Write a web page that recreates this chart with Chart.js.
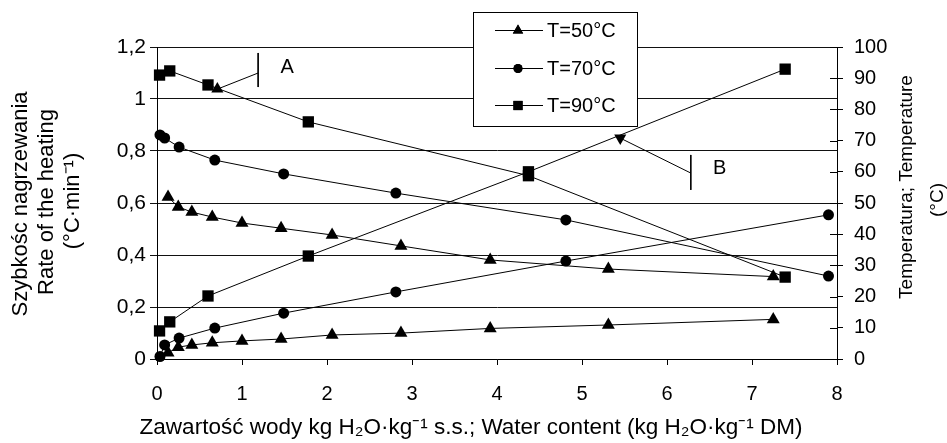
<!DOCTYPE html>
<html><head><meta charset="utf-8">
<script src="https://cdn.jsdelivr.net/npm/chart.js@4.4.1/dist/chart.umd.min.js"></script>
<style>html,body{margin:0;padding:0;background:#fff;overflow:hidden}#wrap{position:relative;width:947px;height:443px}</style>
</head><body><div id="wrap"><canvas id="c"></canvas></div>
<script>
// ---- data ----
const seriesNames = ['T=50°C', 'T=70°C', 'T=90°C'];
const seriesStyles = ['triangle', 'circle', 'rect'];

const x50 = [0.13, 0.25, 0.41, 0.65, 1.0, 1.46, 2.06, 2.87, 3.92, 5.31, 7.25];
const rate50 = [0.623, 0.585, 0.565, 0.546, 0.523, 0.503, 0.477, 0.435, 0.381, 0.346, 0.317];
const temp50 = [2.0, 3.8, 4.5, 5.2, 5.8, 6.4, 7.7, 8.3, 9.8, 10.9, 12.7];

const x70 = [0.035, 0.09, 0.26, 0.68, 1.49, 2.81, 4.81, 7.9];
const rate70 = [0.862, 0.85, 0.815, 0.765, 0.712, 0.638, 0.535, 0.319];
const temp70 = [0.8, 4.5, 6.7, 9.9, 14.7, 21.5, 31.4, 46.2];

const x90 = [0.03, 0.15, 0.6, 1.78, 4.37, 7.39];
const rate90 = [1.092, 1.108, 1.054, 0.912, 0.705, 0.315];
const temp90 = [9.0, 11.9, 20.2, 33.0, 60.0, 92.9];

const xTicks = [0, 1, 2, 3, 4, 5, 6, 7, 8];
const rateTicks = [0, 0.2, 0.4, 0.6, 0.8, 1.0, 1.2];
const rateTickLabels = ['0', '0,2', '0,4', '0,6', '0,8', '1', '1,2'];
const tempTicks = [0, 10, 20, 30, 40, 50, 60, 70, 80, 90, 100];

// annotation A (rate axis) and B (temperature axis)
const arrowA = [{x: 1.19, y: 1.10}, {x: 0.71, y: 1.038}];
const barA = [{x: 1.19, y: 1.177}, {x: 1.19, y: 1.046}];
const labelA = {text: 'A', x: 1.53, y: 1.12};
const arrowB = [{x: 6.28, y: 59.6}, {x: 5.45, y: 70.8}];
const barB = [{x: 6.28, y: 65.4}, {x: 6.28, y: 54.2}];
const labelB = {text: 'B', x: 6.62, y: 61.0};

const xTitle = 'Zawartość wody kg H₂O·kg⁻¹ s.s.; Water content (kg H₂O·kg⁻¹ DM)';
const leftTitle = ['Szybkośc nagrzewania', 'Rate of the heating', '(°C·min⁻¹)'];
const rightTitle = ['Temperatura; Temperature', '(°C)'];

// ---- chart ----
const FONT = '"Liberation Sans", Arial, sans-serif';
const pts = (xs, ys) => xs.map((x, i) => ({x: x, y: ys[i]}));
const radiusFor = s => s === 'rect' ? 8 : (s === 'triangle' ? 7.5 : 5.5);
function series(label, xs, ys, axis, idx) {
  const st = seriesStyles[idx];
  return {label: label, data: pts(xs, ys), yAxisID: axis, showLine: true, tension: 0,
    borderColor: '#000', backgroundColor: '#000', borderWidth: 1,
    pointStyle: st, pointRadius: radiusFor(st), pointHoverRadius: radiusFor(st),
    pointBorderWidth: 0, clip: false};
}
function annot(data, axis, radii, rot) {
  return {label: '', data: data, yAxisID: axis, showLine: true, borderColor: '#000',
    backgroundColor: '#000', borderWidth: 1, pointStyle: 'triangle', pointRadius: radii,
    pointHoverRadius: radii, pointRotation: rot, pointBorderWidth: 0, clip: false};
}

const datasets = [
  series(seriesNames[0], x50, rate50, 'y', 0),
  series(seriesNames[0], x50, temp50, 'y2', 0),
  series(seriesNames[1], x70, rate70, 'y', 1),
  series(seriesNames[1], x70, temp70, 'y2', 1),
  series(seriesNames[2], x90, rate90, 'y', 2),
  series(seriesNames[2], x90, temp90, 'y2', 2),
  annot(arrowA, 'y', [0, 7], 0),
  annot(barA, 'y', [0, 0], 0),
  annot(arrowB, 'y2', [0, 7], 180),
  annot(barB, 'y2', [0, 0], 0)
];

const extras = {
  id: 'extras',
  afterDraw(chart) {
    const ctx = chart.ctx, ca = chart.chartArea;
    const xs = chart.scales.x, ys = chart.scales.y, y2 = chart.scales.y2;
    ctx.save();
    ctx.strokeStyle = '#000'; ctx.lineWidth = 1; ctx.fillStyle = '#000';
    // inner tick marks on the right axis
    tempTicks.forEach(v => {
      const py = Math.round(y2.getPixelForValue(v)) + 0.5;
      ctx.beginPath(); ctx.moveTo(ca.right - 7, py); ctx.lineTo(ca.right, py); ctx.stroke();
    });
    // annotation letters
    ctx.font = '20px ' + FONT; ctx.textAlign = 'center'; ctx.textBaseline = 'middle';
    ctx.fillText(labelA.text, xs.getPixelForValue(labelA.x), ys.getPixelForValue(labelA.y));
    ctx.fillText(labelB.text, xs.getPixelForValue(labelB.x), y2.getPixelForValue(labelB.y));
    // x title
    ctx.font = '22.5px ' + FONT;
    ctx.fillText(xTitle, 471, 428);
    // left title (rotated)
    ctx.font = '22px ' + FONT;
    const leftPos = [[21, 204], [47, 202], [73, 201]];
    leftTitle.forEach((t, i) => {
      ctx.save(); ctx.translate(leftPos[i][0], leftPos[i][1]); ctx.rotate(-Math.PI / 2);
      ctx.fillText(t, 0, 0); ctx.restore();
    });
    ctx.font = '19px ' + FONT;
    const rightPos = [[907, 187], [938, 200]];
    rightTitle.forEach((t, i) => {
      ctx.save(); ctx.translate(rightPos[i][0], rightPos[i][1]); ctx.rotate(-Math.PI / 2);
      ctx.fillText(t, 0, 0); ctx.restore();
    });
    // legend
    const bx = 473.5, by = 12.5, bw = 164, bh = 114;
    ctx.fillStyle = '#fff'; ctx.fillRect(bx, by, bw, bh);
    ctx.strokeRect(bx, by, bw, bh);
    ctx.fillStyle = '#000';
    const rowsY = [30, 68, 105];
    seriesNames.forEach((name, i) => {
      const y = rowsY[i] + 0.5;
      ctx.beginPath(); ctx.moveTo(495, y); ctx.lineTo(543, y); ctx.stroke();
      const st = seriesStyles[i];
      Chart.helpers.drawPoint(ctx, {pointStyle: st, rotation: 0, radius: st === 'rect' ? 6.5 : (st === 'triangle' ? 6 : 4.5), borderWidth: 0}, 518, y);
      ctx.fill();
      ctx.textAlign = 'left'; ctx.font = '20px ' + FONT;
      ctx.fillText(name, 547, rowsY[i] + 1);
    });
    ctx.restore();
  }
};

new Chart(document.getElementById('c'), {
  type: 'scatter',
  data: {datasets: datasets},
  options: {
    responsive: true, maintainAspectRatio: false, animation: false,
    layout: {padding: {top: 47, left: 0, right: 0, bottom: 0}},
    plugins: {legend: {display: false}, tooltip: {enabled: false}, title: {display: false}},
    scales: {
      x: {type: 'linear', position: 'bottom', min: 0, max: 8,
        afterFit: s => { s.height = 84; },
        afterBuildTicks: s => { s.ticks = xTicks.map(v => ({value: v})); },
        ticks: {color: '#000', font: {family: FONT, size: 20}, padding: 17, maxRotation: 0, autoSkip: false},
        grid: {drawOnChartArea: false, color: '#000', tickLength: 6, tickWidth: 1},
        border: {color: '#000', width: 1}},
      y: {type: 'linear', position: 'left', min: 0, max: 1.2,
        afterFit: s => { s.width = 157; },
        afterBuildTicks: s => { s.ticks = rateTicks.map(v => ({value: v})); },
        ticks: {color: '#000', font: {family: FONT, size: 21}, padding: 4, autoSkip: false,
          callback: (v, i) => rateTickLabels[i]},
        grid: {color: '#111', lineWidth: 1, tickLength: 7, drawOnChartArea: true},
        border: {color: '#000', width: 1}},
      y2: {type: 'linear', position: 'right', min: 0, max: 100,
        afterFit: s => { s.width = 110; },
        afterBuildTicks: s => { s.ticks = tempTicks.map(v => ({value: v})); },
        ticks: {color: '#000', font: {family: FONT, size: 20}, padding: 11, autoSkip: false},
        grid: {drawOnChartArea: false, color: '#000', tickLength: 6},
        border: {color: '#000', width: 1}}
    }
  },
  plugins: [extras]
});
</script></body></html>
